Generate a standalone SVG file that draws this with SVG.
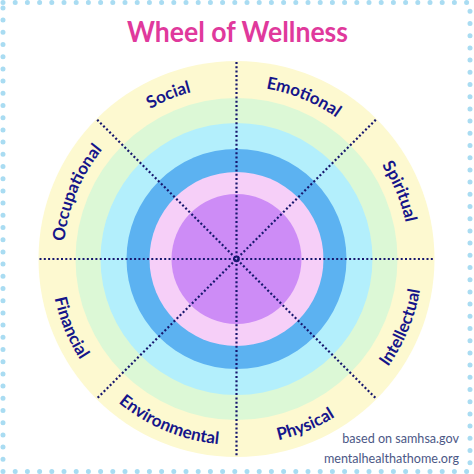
<svg xmlns="http://www.w3.org/2000/svg" width="474" height="474" viewBox="0 0 474 474">
<style>
.lbl{font-family:Lato,"Open Sans","Liberation Sans",sans-serif;font-weight:700;font-size:17px;fill:#15158a}
.div{stroke:#17176e;stroke-width:2.2;stroke-dasharray:2 2.3;fill:none}
.src{font-family:Lato,"Liberation Sans",sans-serif;font-size:12.6px;fill:#4c5886;text-anchor:end}
</style>
<defs>
<path id="pSocial" d="M83.05,179.13 A173,173 0 0 1 288.52,94.01"/>
<path id="pEmotional" d="M184.48,94.01 A173,173 0 0 1 389.95,179.13"/>
<path id="pSpiritual" d="M316.37,105.55 A173,173 0 0 1 401.49,311.02"/>
<path id="pOccupational" d="M71.51,311.02 A173,173 0 0 1 156.63,105.55"/>
<path id="pIntellectual" d="M322.38,423.98 A186,186 0 0 0 413.89,203.07"/>
<path id="pPhysical" d="M180.57,436.39 A186,186 0 0 0 401.48,344.88"/>
<path id="pEnvironmental" d="M71.52,344.88 A186,186 0 0 0 292.43,436.39"/>
<path id="pFinancial" d="M59.11,203.07 A186,186 0 0 0 150.62,423.98"/>
</defs>
<rect width="474" height="474" fill="#ffffff"/>
<rect x="3" y="2.5" width="467" height="469" fill="none" stroke="#a9dcf2" stroke-width="5" stroke-linecap="round" stroke-dasharray="0 12.2"/>
<text x="237.5" y="42" text-anchor="middle" font-family="Lato,'Liberation Sans',sans-serif" font-weight="700" font-size="28" fill="#e0399c" textLength="221" lengthAdjust="spacingAndGlyphs">Wheel of Wellness</text>
<g id="rings">
<circle cx="236.5" cy="259" r="198" fill="#fdf9d0"/>
<circle cx="236.5" cy="259" r="161" fill="#dcf8d6"/>
<circle cx="236.5" cy="259" r="136" fill="#b3effc"/>
<circle cx="236.5" cy="259" r="110" fill="#5cb2f1"/>
<circle cx="236.5" cy="259" r="87" fill="#f6cff8"/>
<circle cx="236.5" cy="259" r="65" fill="#cd8cf6"/>
</g>
<g id="connectors">
<line class="div" x1="236.5" y1="62" x2="236.5" y2="456"/>
<line class="div" x1="39.5" y1="259" x2="433.5" y2="259"/>
<line class="div" x1="97.2" y1="119.7" x2="375.8" y2="398.3"/>
<line class="div" x1="375.8" y1="119.7" x2="97.2" y2="398.3"/>
<circle cx="236.5" cy="259" r="2.5" fill="none" stroke="#17176e" stroke-width="1.5"/>
</g>
<g id="social"><text class="lbl"><textPath href="#pSocial" startOffset="50%" text-anchor="middle">Social</textPath></text></g>
<g id="emotional"><text class="lbl"><textPath href="#pEmotional" startOffset="50%" text-anchor="middle">Emotional</textPath></text></g>
<g id="spiritual"><text class="lbl"><textPath href="#pSpiritual" startOffset="50%" text-anchor="middle">Spiritual</textPath></text></g>
<g id="occupational"><text class="lbl"><textPath href="#pOccupational" startOffset="50%" text-anchor="middle">Occupational</textPath></text></g>
<g id="intellectual"><text class="lbl"><textPath href="#pIntellectual" startOffset="50%" text-anchor="middle">Intellectual</textPath></text></g>
<g id="physical"><text class="lbl"><textPath href="#pPhysical" startOffset="50%" text-anchor="middle">Physical</textPath></text></g>
<g id="environmental"><text class="lbl"><textPath href="#pEnvironmental" startOffset="50%" text-anchor="middle">Environmental</textPath></text></g>
<g id="financial"><text class="lbl"><textPath href="#pFinancial" startOffset="50%" text-anchor="middle">Financial</textPath></text></g>
<text class="src" x="459" y="443">based on samhsa.gov</text>
<text class="src" x="459" y="463">mentalhealthathome.org</text>
</svg>
